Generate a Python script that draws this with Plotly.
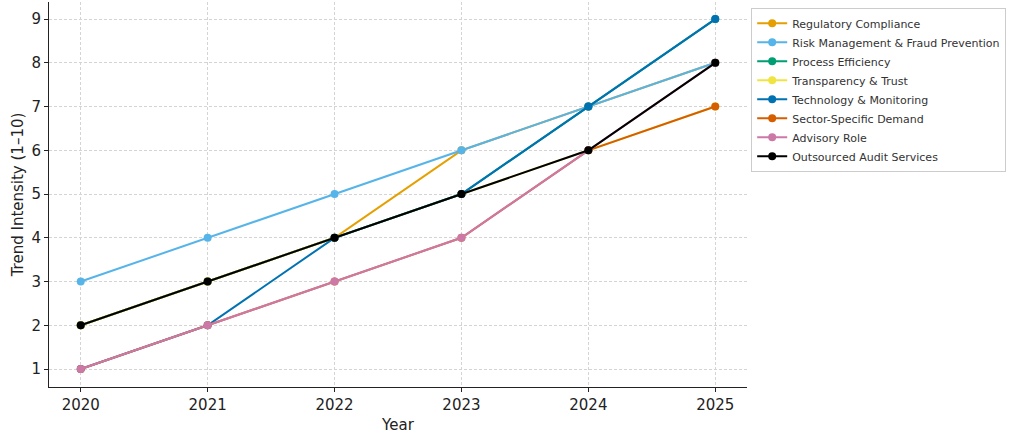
import plotly.graph_objects as go

years = [2020, 2021, 2022, 2023, 2024, 2025]
series_names = [
    "Regulatory Compliance",
    "Risk Management & Fraud Prevention",
    "Process Efficiency",
    "Transparency & Trust",
    "Technology & Monitoring",
    "Sector-Specific Demand",
    "Advisory Role",
    "Outsourced Audit Services",
]
regulatory = [2, 3, 4, 6, 7, 8]
risk = [3, 4, 5, 6, 7, 8]
process = [2, 3, 4, 5, 7, 9]
transparency = [2, 3, 4, 5, 6, 7]
technology = [1, 2, 4, 5, 7, 9]
sector = [1, 2, 3, 4, 6, 7]
advisory = [1, 2, 3, 4, 6, 8]
outsourced = [2, 3, 4, 5, 6, 8]
values = [regulatory, risk, process, transparency, technology, sector, advisory, outsourced]
colors = ["#E69F00", "#56B4E9", "#009E73", "#F0E442", "#0072B2", "#D55E00", "#CC79A7", "#000000"]

fig = go.Figure()
for name, vals, c in zip(series_names, values, colors):
    fig.add_trace(go.Scatter(
        x=years, y=vals, name=name, mode="lines+markers",
        line=dict(color=c, width=2), marker=dict(color=c, size=8),
    ))

fig.update_layout(
    width=1012, height=443,
    margin=dict(l=49, r=265, t=2, b=56, autoexpand=False),
    paper_bgcolor="white", plot_bgcolor="white",
    font=dict(family="DejaVu Sans", color="#222222"),
    showlegend=True,
    legend=dict(
        x=1.006, y=0.985, xanchor="left", yanchor="top",
        font=dict(size=11, color="#333333"),
        bordercolor="#cccccc", borderwidth=1, bgcolor="white",
        tracegroupgap=0, itemwidth=30,
    ),
)
fig.update_xaxes(
    range=[2019.75, 2025.25], tickvals=years, ticktext=[str(y) for y in years],
    showgrid=True, gridcolor="#d4d4d4", griddash="3px,2px", gridwidth=0.8,
    showline=True, linecolor="#222222", linewidth=1,
    ticks="outside", ticklen=4, tickcolor="#222222",
    tickfont=dict(size=15), zeroline=False, automargin=False,
    title=dict(text="Year", font=dict(size=15), standoff=6),
)
fig.update_yaxes(
    range=[0.59, 9.39], tickvals=list(range(1, 10)),
    showgrid=True, gridcolor="#d4d4d4", griddash="3px,2px", gridwidth=0.8,
    showline=True, linecolor="#222222", linewidth=1,
    ticks="outside", ticklen=4, tickcolor="#222222",
    tickfont=dict(size=15), zeroline=False, automargin=False,
    title=dict(text="Trend Intensity (1–10)", font=dict(size=15), standoff=4),
)

fig.write_html(
    "out.html",
    config={"displayModeBar": False},
    post_script="document.body.style.margin='0';document.body.style.overflow='hidden';",
)
